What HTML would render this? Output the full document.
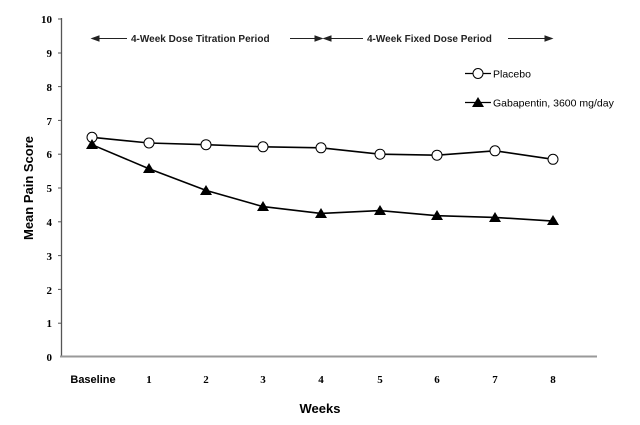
<!DOCTYPE html>
<html><head><style>body{margin:0;background:#fff}</style></head><body>
<svg width="640" height="420" xmlns="http://www.w3.org/2000/svg" font-family="Liberation Sans, sans-serif">
<rect width="640" height="420" fill="#fff"/>
<line x1="61.5" y1="18" x2="61.5" y2="357" stroke="#555" stroke-width="1.3"/>
<line x1="60" y1="356.5" x2="597" y2="356.5" stroke="#999" stroke-width="2"/>
<g font-family="Liberation Serif, serif" font-weight="bold" font-size="11" text-anchor="end">
<text x="52" y="23">10</text><text x="52" y="57">9</text><text x="52" y="91">8</text><text x="52" y="125">7</text><text x="52" y="158">6</text><text x="52" y="192">5</text><text x="52" y="226">4</text><text x="52" y="260">3</text><text x="52" y="294">2</text><text x="52" y="327">1</text><text x="52" y="361">0</text>
</g>
<g stroke="#555"><line x1="58" y1="19" x2="61" y2="19"/><line x1="58" y1="53" x2="61" y2="53"/><line x1="58" y1="86.6" x2="61" y2="86.6"/><line x1="58" y1="120.4" x2="61" y2="120.4"/><line x1="58" y1="154.2" x2="61" y2="154.2"/><line x1="58" y1="188" x2="61" y2="188"/><line x1="58" y1="221.8" x2="61" y2="221.8"/><line x1="58" y1="255.6" x2="61" y2="255.6"/><line x1="58" y1="289.4" x2="61" y2="289.4"/><line x1="58" y1="323.2" x2="61" y2="323.2"/></g>
<g font-family="Liberation Serif, serif" font-weight="bold" font-size="11" text-anchor="middle">
<text x="149" y="383">1</text><text x="206" y="383">2</text><text x="263" y="383">3</text><text x="321" y="383">4</text><text x="380" y="383">5</text><text x="437" y="383">6</text><text x="495" y="383">7</text><text x="553" y="383">8</text>
</g>
<text x="93" y="383" font-size="11" font-weight="bold" text-anchor="middle">Baseline</text>
<text x="320" y="413" font-size="13" font-weight="bold" text-anchor="middle">Weeks</text>
<text transform="translate(33,188) rotate(-90)" font-size="13" font-weight="bold" text-anchor="middle">Mean Pain Score</text>
<g stroke="#222" stroke-width="1" fill="#222" font-size="10">
<line x1="94" y1="38.5" x2="127" y2="38.5"/><polygon points="92,38.5 99,36 99,41"/>
<line x1="290" y1="38.5" x2="318" y2="38.5"/><polygon points="322,38.5 315,36 315,41"/>
<polygon points="324,38.5 331,36 331,41"/><line x1="330" y1="38.5" x2="363" y2="38.5"/>
<line x1="508" y1="38.5" x2="548" y2="38.5"/><polygon points="552,38.5 545,36 545,41"/>
<text x="131" y="42" stroke="none" font-weight="bold">4-Week Dose Titration Period</text>
<text x="367" y="42" stroke="none" font-weight="bold">4-Week Fixed Dose Period</text>
</g>
<polyline fill="none" stroke="#000" stroke-width="1.6" points="92,137.3 149,143 206,144.7 263,146.8 321,147.8 380,154.2 437,155.2 495,150.8 553,159.3"/>
<polyline fill="none" stroke="#000" stroke-width="1.6" points="92,144.7 149,168.7 206,190.4 263,206.6 321,213.4 380,210.6 437,215.7 495,217.4 553,221.1"/>
<g fill="#fff" stroke="#000" stroke-width="1">
<circle cx="92" cy="137.3" r="5"/><circle cx="149" cy="143" r="5"/><circle cx="206" cy="144.7" r="5"/><circle cx="263" cy="146.8" r="5"/><circle cx="321" cy="147.8" r="5"/><circle cx="380" cy="154.2" r="5"/><circle cx="437" cy="155.2" r="5"/><circle cx="495" cy="150.8" r="5"/><circle cx="553" cy="159.3" r="5"/>
</g>
<g fill="#000">
<polygon points="92,139 86,149 98,149"/><polygon points="149,163 143,173 155,173"/><polygon points="206,185 200,195 212,195"/><polygon points="263,201 257,211 269,211"/><polygon points="321,208 315,218 327,218"/><polygon points="380,205 374,215 386,215"/><polygon points="437,210 431,220 443,220"/><polygon points="495,212 489,222 501,222"/><polygon points="553,215 547,225 559,225"/>
</g>
<line x1="465" y1="73.5" x2="491" y2="73.5" stroke="#000" stroke-width="1.3"/>
<circle cx="478" cy="73.5" r="5" fill="#fff" stroke="#000"/>
<text x="493" y="77.5" font-size="10.5">Placebo</text>
<line x1="465" y1="102.5" x2="491" y2="102.5" stroke="#000" stroke-width="1.3"/>
<polygon points="478,97 472,107 484,107" fill="#000"/>
<text x="493" y="106.5" font-size="10.5">Gabapentin, 3600 mg/day</text>
</svg>
</body></html>
